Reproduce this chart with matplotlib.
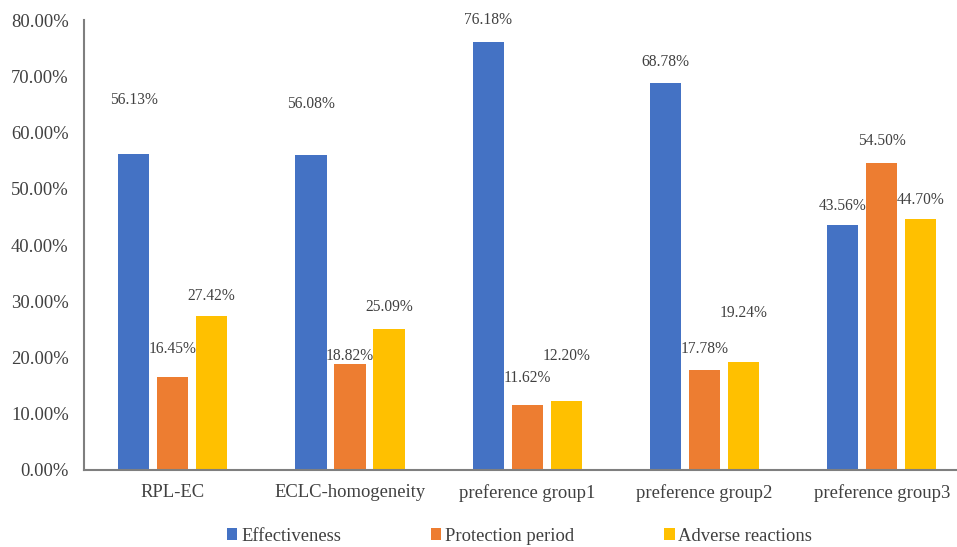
import matplotlib
matplotlib.use("Agg")
import matplotlib.pyplot as plt
import numpy as np

plt.rcParams['font.family'] = ['Liberation Serif', 'DejaVu Serif']

categories = ["RPL-EC", "ECLC-homogeneity", "preference group1",
              "preference group2", "preference group3"]
series_names = ["Effectiveness", "Protection period", "Adverse reactions"]
effectiveness = [56.13, 56.08, 76.18, 68.78, 43.56]
protection = [16.45, 18.82, 11.62, 17.78, 54.50]
adverse = [27.42, 25.09, 12.20, 19.24, 44.70]
yticks = [0, 10, 20, 30, 40, 50, 60, 70, 80]

colors = ["#4472C4", "#ED7D31", "#FFC000"]
# label offsets above bar top, in pixels (labels were hand-placed in the original)
label_offsets = [
    [54, 51, 22, 21, 19],
    [28, 8, 27, 21, 22],
    [20, 22, 45, 49, 19],
]

fig = plt.figure(figsize=(9.57, 5.47), dpi=100)
ax = fig.add_axes([0.0878, 0.1408, 0.9264, 0.8226])

x = np.arange(len(categories))
w = 0.175
step = 0.22
all_series = [effectiveness, protection, adverse]
for i, (vals, name) in enumerate(zip(all_series, series_names)):
    pos = x + (i - 1) * step
    ax.bar(pos, vals, width=w, color=colors[i], label=name, zorder=2)
    for px, v, off in zip(pos, vals, label_offsets[i]):
        ax.annotate("%.2f%%" % v, (px, v), xytext=(0, off),
                    textcoords="offset pixels", ha="center", va="center",
                    fontsize=11.2, color="#404040")

ax.set_xlim(-0.5, len(categories) - 0.5)
ax.set_ylim(0, 80)
ax.set_yticks(yticks)
ax.set_yticklabels(["%.2f%%" % t for t in yticks], fontsize=13.4, color="#404040")
ax.set_xticks(x)
ax.set_xticklabels(categories, fontsize=13.4, color="#404040")
ax.tick_params(axis="y", length=0, pad=11)
ax.tick_params(axis="x", length=0, pad=10)

for s in ["top", "right"]:
    ax.spines[s].set_visible(False)
for s in ["left", "bottom"]:
    ax.spines[s].set_color("#7f7f7f")
    ax.spines[s].set_linewidth(1.5)

fig.legend(loc="center", bbox_to_anchor=(0.543, 0.02), ncol=3, frameon=False,
           fontsize=13.4, handlelength=0.55, handleheight=0.55, handletextpad=0.2,
           columnspacing=4.85, labelcolor="#404040")

fig.savefig("out.png", dpi=100)
